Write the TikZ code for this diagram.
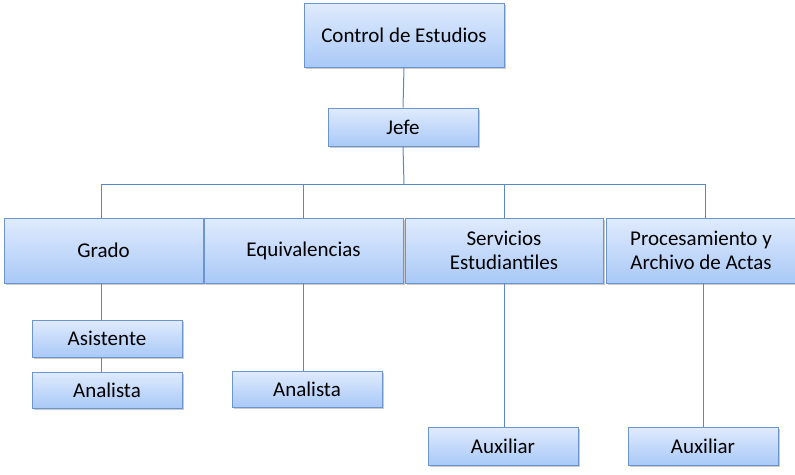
\documentclass[tikz,border=0pt]{standalone}
\usepackage{fontspec}
\setmainfont{Carlito}
\usetikzlibrary{shadows}
\definecolor{boxtop}{HTML}{E0EBFD}
\definecolor{boxbot}{HTML}{A9C9F7}
\definecolor{boxline}{HTML}{6D95CD}
\definecolor{conn}{HTML}{5A87C5}
\tikzset{
  box/.style={draw=boxline, line width=0.9pt, top color=boxtop, bottom color=boxbot,
    align=center, inner sep=0pt, font=\fontsize{21}{24}\selectfont,
    drop shadow={shadow xshift=1.5pt, shadow yshift=-2pt, opacity=0.35, fill=black!60}},
  conn/.style={draw=conn, line width=1pt}
}
\begin{document}
\begin{tikzpicture}[x=1pt,y=-1pt]
\useasboundingbox (0,0) rectangle (795,474);
\node[box, minimum width=200pt, minimum height=64pt] (control) at (404,35) {Control de Estudios};
\node[box, minimum width=150pt, minimum height=38pt] (jefe) at (403,127) {Jefe};
\node[box, minimum width=199pt, minimum height=65pt] (grado) at (103.5,250.5) {Grado};
\node[box, minimum width=199pt, minimum height=65pt] (equiv) at (303.5,250.5) {Equivalencias};
\node[box, minimum width=198pt, minimum height=65pt] (serv) at (504,250.5) {Servicios\\Estudiantiles};
\node[box, minimum width=189pt, minimum height=65pt] (proc) at (701,250.5) {Procesamiento y\\Archivo de Actas};
\node[box, minimum width=150pt, minimum height=37pt] (asist) at (107,338.5) {Asistente};
\node[box, minimum width=150pt, minimum height=36pt] (anal1) at (107,390) {Analista};
\node[box, minimum width=150pt, minimum height=36pt] (anal2) at (307,389) {Analista};
\node[box, minimum width=150pt, minimum height=38pt] (aux1) at (503,446) {Auxiliar};
\node[box, minimum width=150pt, minimum height=38pt] (aux2) at (703,446) {Auxiliar};
\coordinate (bar) at (404,184);
\draw[conn] (control.south) -- (jefe.north);
\draw[conn] (jefe.south) -- (bar);
\draw[conn] (bar) -| ([xshift=-2.5pt]grado.north);
\draw[conn] (bar) -| (equiv.north);
\draw[conn] (bar) -| (serv.north);
\draw[conn] (bar) -| ([xshift=4pt]proc.north);
\draw[conn] ([xshift=-2.5pt]grado.south) -- ([xshift=-2.5pt]grado.south |- asist.north);
\draw[conn] ([xshift=-5.5pt]asist.south) -- ([xshift=-5.5pt]asist.south |- anal1.north);
\draw[conn] (equiv.south) -- (equiv.south |- anal2.north);
\draw[conn] (serv.south) -- (serv.south |- aux1.north);
\draw[conn] ([xshift=2pt]proc.south) -- ([xshift=2pt]proc.south |- aux2.north);
\end{tikzpicture}
\end{document}
